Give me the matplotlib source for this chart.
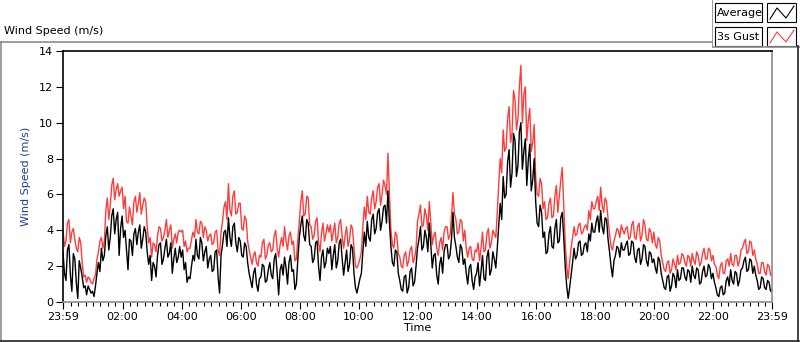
import numpy as np
import matplotlib
matplotlib.use("Agg")
import matplotlib.pyplot as plt
from matplotlib.patches import Rectangle
from matplotlib.lines import Line2D

# one sample every 3 minutes starting at 23:59, 20 per hour (+ last point at 23:59)
avg_speed = [
    2.8, 1.6, 1.2, 2.9, 3.2, 1.5, 0.6, 2.7, 2.4, 1.1, 0.2, 2.3, 1.9, 1.4, 0.8, 0.9, 0.4, 0.9, 0.7, 0.5,
    0.6, 0.3, 0.9, 1.6, 2.2, 1.7, 3.0, 2.3, 2.6, 3.7, 4.2, 2.9, 3.6, 4.8, 5.2, 3.8, 4.6, 5.0, 2.6, 4.1,
    4.8, 3.6, 4.0, 2.9, 1.8, 3.5, 3.4, 2.6, 3.8, 4.1, 3.2, 3.9, 4.3, 3.0, 3.5, 4.2, 3.9, 2.8, 2.1, 2.6,
    1.2, 2.2, 2.0, 1.4, 2.6, 3.2, 3.3, 2.1, 2.4, 3.0, 3.5, 2.5, 2.7, 3.3, 1.6, 2.4, 3.0, 2.2, 2.5, 3.1,
    2.5, 2.9, 1.8, 2.2, 1.1, 1.4, 1.3, 2.0, 2.6, 2.3, 3.5, 2.6, 2.4, 3.6, 3.3, 2.3, 2.8, 3.1, 1.9, 2.4,
    2.6, 1.7, 1.8, 2.8, 2.9, 1.4, 0.5, 2.6, 3.2, 3.9, 4.0, 3.1, 4.7, 3.6, 3.1, 4.2, 4.4, 3.3, 2.8, 3.6,
    3.4, 2.6, 2.5, 3.3, 3.1, 2.2, 1.6, 1.2, 0.8, 1.6, 1.9, 1.0, 0.6, 1.3, 1.4, 2.1, 2.0, 1.1, 1.2, 1.8,
    2.2, 1.5, 1.3, 2.4, 2.7, 1.6, 0.4, 1.8, 2.1, 1.5, 2.5, 1.9, 1.0, 2.2, 2.6, 1.7, 1.8, 0.7, 1.0, 2.4,
    3.6, 4.3, 4.8, 3.7, 3.4, 4.6, 4.4, 3.2, 3.1, 2.2, 2.4, 3.3, 3.4, 2.0, 1.2, 2.5, 2.9, 1.9, 2.2, 3.0,
    2.7, 3.1, 1.8, 2.6, 3.2, 1.9, 2.3, 3.3, 3.5, 2.4, 1.5, 2.2, 2.9, 1.7, 2.1, 3.2, 3.0, 1.6, 0.8, 0.5,
    0.9, 1.3, 1.6, 2.8, 3.9, 3.1, 4.5, 3.6, 3.4, 4.6, 4.9, 3.8, 4.1, 5.0, 5.2, 4.0, 4.5, 5.3, 5.4, 4.4,
    6.2, 4.4, 3.1, 2.2, 2.0, 2.9, 2.8, 1.6, 1.2, 0.7, 0.6, 1.4, 1.5, 0.5, 0.8, 1.7, 1.9, 0.9, 1.1, 2.0,
    3.0, 3.5, 4.2, 2.9, 3.1, 4.0, 3.6, 2.8, 4.4, 3.2, 1.9, 2.6, 2.7, 1.5, 1.0, 2.1, 2.5, 1.6, 2.8, 3.2,
    3.2, 2.4, 2.6, 3.5, 5.0, 3.6, 3.1, 2.5, 2.2, 3.2, 3.0, 2.1, 2.4, 1.6, 1.0, 1.9, 2.1, 1.2, 0.7, 1.4,
    1.6, 2.2, 0.9, 1.7, 2.6, 1.3, 1.2, 2.5, 2.9, 1.5, 1.8, 2.8, 2.4, 1.9, 3.0, 4.3, 5.5, 4.6, 7.0, 5.8,
    6.0, 7.8, 8.5, 6.4, 7.2, 9.4, 9.0, 7.0, 7.6, 9.5, 10.0, 7.4, 8.4, 9.1, 6.5, 7.9, 8.8, 6.2, 6.8, 8.0,
    5.6, 4.4, 4.2, 5.4, 5.0, 3.6, 3.9, 2.7, 2.8, 3.8, 4.2, 3.1, 3.0, 4.1, 4.6, 3.3, 3.4, 4.7, 5.0, 3.6,
    2.0, 0.9, 0.2, 0.8, 1.5, 2.2, 3.0, 2.4, 2.6, 3.3, 3.4, 2.6, 2.7, 3.2, 3.3, 2.8, 3.8, 3.4, 4.4, 3.9,
    3.9, 4.5, 4.8, 3.9, 5.1, 4.2, 3.8, 4.7, 4.6, 3.5, 2.8, 2.0, 1.4, 2.3, 2.6, 3.1, 3.0, 2.5, 3.3, 2.9,
    2.9, 3.2, 3.4, 2.6, 2.7, 3.4, 3.3, 2.5, 2.2, 2.9, 3.0, 2.1, 2.4, 3.2, 3.1, 2.3, 2.0, 2.8, 2.7, 2.2,
    2.4, 1.9, 1.6, 2.5, 2.3, 1.6, 1.2, 0.8, 0.7, 1.4, 1.5, 0.6, 0.9, 1.6, 1.4, 0.8, 1.8, 1.2, 1.3, 1.9,
    1.9, 1.4, 1.2, 1.8, 1.7, 1.1, 2.0, 1.5, 1.3, 1.9, 1.8, 1.0, 1.1, 1.7, 2.0, 1.4, 1.5, 2.1, 1.9, 1.3,
    1.6, 1.1, 0.8, 0.4, 0.3, 0.8, 0.9, 0.4, 0.5, 1.2, 1.4, 0.9, 1.8, 1.2, 1.0, 1.7, 1.6, 0.9, 1.2, 1.8,
    1.9, 2.3, 2.5, 1.7, 1.8, 2.4, 2.3, 1.6, 2.0, 1.5, 1.2, 0.7, 0.8, 1.4, 1.3, 0.8, 0.7, 1.2, 1.1, 0.6,
    0.7,
]
gust_speed = [
    4.0, 3.1, 3.4, 4.4, 4.6, 3.3, 3.9, 4.1, 3.5, 3.0, 2.8, 3.6, 3.3, 2.2, 1.4, 1.5, 1.1, 1.4, 1.3, 1.1,
    1.0, 1.3, 1.5, 2.4, 2.8, 3.4, 3.6, 3.0, 3.4, 5.1, 5.8, 4.6, 5.4, 6.5, 6.9, 5.7, 6.3, 6.6, 5.9, 6.2,
    6.4, 5.2, 5.9, 4.5, 4.4, 5.3, 4.8, 4.3, 5.6, 5.9, 5.0, 5.5, 6.1, 4.9, 5.4, 5.8, 5.6, 4.2, 3.3, 3.6,
    2.5, 3.3, 3.2, 2.8, 3.7, 4.2, 4.1, 3.4, 3.6, 4.0, 4.6, 3.6, 4.0, 4.3, 3.0, 3.5, 3.8, 3.3, 3.9, 4.0,
    3.9, 4.0, 3.1, 3.4, 2.8, 3.0, 3.0, 3.5, 3.9, 3.6, 4.6, 3.9, 3.8, 4.5, 4.4, 3.6, 4.2, 4.0, 3.4, 3.7,
    3.8, 3.2, 3.3, 3.9, 4.0, 2.9, 2.6, 3.9, 4.5, 5.3, 5.6, 4.6, 6.6, 5.1, 4.8, 5.9, 6.2, 4.9, 5.0, 5.5,
    5.5, 4.1, 4.0, 4.8, 4.6, 3.4, 2.9, 2.5, 2.1, 2.6, 2.8, 2.2, 2.0, 2.6, 2.5, 3.3, 3.5, 2.4, 2.6, 3.2,
    3.3, 2.8, 2.9, 3.7, 4.0, 3.0, 2.5, 3.2, 3.6, 3.1, 4.2, 3.4, 2.9, 3.7, 3.9, 3.2, 3.4, 2.3, 2.4, 3.5,
    4.5, 5.6, 6.2, 4.8, 4.9, 5.9, 5.8, 4.3, 4.2, 3.5, 3.7, 4.5, 4.7, 3.3, 2.8, 3.8, 4.4, 3.4, 3.8, 4.3,
    3.9, 4.3, 3.4, 3.9, 4.4, 3.3, 3.6, 4.4, 4.6, 3.6, 3.0, 3.7, 4.2, 3.1, 3.5, 4.3, 4.1, 3.0, 2.0, 1.9,
    2.1, 2.4, 2.8, 4.2, 5.3, 4.6, 5.9, 5.0, 4.9, 5.8, 6.2, 5.2, 5.6, 6.4, 6.6, 5.4, 6.0, 6.8, 6.5, 6.0,
    8.3, 6.0, 4.0, 3.2, 3.0, 3.9, 3.7, 2.7, 2.5, 2.0, 1.9, 2.6, 2.8, 2.0, 2.3, 2.9, 3.1, 2.2, 2.4, 3.0,
    4.5, 4.9, 5.4, 4.2, 4.3, 5.2, 4.8, 4.0, 5.6, 4.4, 3.2, 3.7, 3.9, 3.0, 2.6, 3.3, 3.6, 2.9, 3.9, 4.2,
    4.2, 3.5, 3.7, 4.8, 6.1, 4.9, 4.6, 3.8, 3.9, 4.6, 4.5, 3.4, 4.0, 3.0, 2.5, 3.0, 3.1, 2.4, 2.3, 2.9,
    2.8, 3.3, 2.3, 3.0, 3.9, 2.8, 2.9, 3.8, 4.1, 3.0, 3.3, 4.0, 3.8, 3.6, 5.0, 6.6, 8.0, 7.2, 9.6, 8.4,
    8.6, 10.2, 10.9, 8.9, 9.4, 11.8, 11.3, 9.6, 10.2, 12.1, 13.2, 10.0, 11.6, 12.0, 9.0, 10.1, 10.8, 8.4, 8.9, 9.9,
    7.0, 6.0, 5.9, 6.9, 6.6, 5.2, 5.6, 4.6, 4.7, 5.5, 5.8, 4.7, 4.8, 5.9, 6.5, 5.0, 5.9, 6.8, 7.5, 5.4,
    3.3, 2.0, 1.3, 2.2, 3.0, 3.6, 4.2, 3.7, 3.8, 4.3, 4.4, 3.8, 3.9, 4.2, 4.3, 4.0, 5.1, 4.6, 5.6, 5.2,
    5.2, 5.6, 5.9, 5.1, 6.4, 5.4, 5.0, 5.8, 5.6, 4.6, 3.8, 3.1, 2.9, 3.4, 3.7, 4.1, 4.0, 3.6, 4.3, 4.0,
    3.8, 4.1, 4.2, 3.5, 3.6, 4.3, 4.5, 3.6, 3.5, 4.2, 4.4, 3.4, 3.7, 4.6, 4.3, 3.5, 3.4, 4.1, 3.9, 3.3,
    3.9, 3.2, 3.0, 3.6, 3.4, 2.6, 2.2, 1.8, 1.7, 2.2, 2.3, 1.6, 1.8, 2.4, 2.1, 1.8, 2.6, 2.1, 2.2, 2.7,
    2.6, 2.2, 2.0, 2.6, 2.5, 2.0, 2.7, 2.3, 2.1, 2.8, 2.6, 2.0, 2.2, 2.7, 3.0, 2.4, 2.4, 3.0, 2.9, 2.3,
    2.6, 2.1, 2.0, 1.5, 1.3, 2.0, 2.2, 1.6, 1.6, 2.3, 2.4, 2.0, 2.7, 2.1, 2.0, 2.6, 2.6, 2.0, 2.3, 2.9,
    3.0, 3.3, 3.5, 2.7, 2.8, 3.4, 3.3, 2.6, 2.9, 2.4, 2.1, 1.6, 1.6, 2.2, 2.2, 1.7, 1.5, 2.1, 2.0, 1.5,
    1.5,
]
tick_labels = ["23:59", "02:00", "04:00", "06:00", "08:00", "10:00", "12:00",
               "14:00", "16:00", "18:00", "20:00", "22:00", "23:59"]
series_names = ["Average", "3s Gust"]

t_avg = np.arange(len(avg_speed)) / 20.0    # hours since 23:59
t_gust = np.arange(len(gust_speed)) / 20.0
off = 1 / 60.0                              # 23:59 -> 00:00
major = [0.0] + [off + 2 * k for k in range(1, 12)] + [24.0]
minor = [off + 0.25 * k for k in range(96)]

plt.rcParams["font.family"] = "DejaVu Sans"
fig = plt.figure(figsize=(8, 3.42), dpi=100)

# panel frame and title
fig.add_artist(Line2D([0.0, 0.89], [1 - 42 / 342] * 2, color="#8c8c8c", lw=1.2, transform=fig.transFigure))
fig.add_artist(Line2D([0.001, 0.001], [0.002, 1 - 42 / 342], color="#8c8c8c", lw=1.2, transform=fig.transFigure))
fig.add_artist(Line2D([0.0, 0.999], [0.004, 0.004], color="#222222", lw=1.2, transform=fig.transFigure))
fig.add_artist(Line2D([0.997, 0.997], [0.004, 1 - 46 / 342], color="#222222", lw=1.2, transform=fig.transFigure))
fig.text(4 / 800, 1 - 31 / 342, "Wind Speed (m/s)", fontsize=8, va="center", ha="left", color="black")

ax = fig.add_axes([63 / 800, 40 / 342, 709 / 800, 251 / 342])
ax.plot(t_gust, gust_speed, color="#ff3c3c", lw=1.0)
ax.plot(t_avg, avg_speed, color="black", lw=1.0)
ax.set_xlim(0, 24)
ax.set_ylim(0, 14)
ax.set_yticks(range(0, 15, 2))
ax.set_xticks(major)
ax.set_xticklabels(tick_labels)
ax.set_xticks(minor, minor=True)
ax.tick_params(axis="both", labelsize=8, colors="black", length=5, width=0.8, pad=2)
ax.tick_params(axis="x", which="minor", length=3, width=0.8)
ax.set_ylabel("Wind Speed (m/s)", fontsize=8, color="#1f3f8f", labelpad=6)
ax.set_xlabel("Time", fontsize=8, labelpad=1)
ax.spines["left"].set_color("black")
ax.spines["top"].set_color("black")
ax.spines["bottom"].set_color("#8c8c8c")
ax.spines["right"].set_color("#8c8c8c")
for s in ax.spines.values():
    s.set_linewidth(1.2)

# LabVIEW-style plot legend (top right)
lg = fig.add_axes([712 / 800, 1 - 48 / 342, 88 / 800, 48 / 342])
lg.set_xlim(712, 800)
lg.set_ylim(48, 0)
lg.axis("off")
lg.plot([712, 712, 800], [0, 47, 47], color="#8c8c8c", lw=1.2)
colors = ["black", "#ff3c3c"]
for i, (name, c) in enumerate(zip(series_names, colors)):
    y0 = 3 + i * 24
    lg.add_patch(Rectangle((715, y0), 47, 19, fill=False, ec="black", lw=0.8))
    lg.text(717, y0 + 9.5, name, fontsize=8, va="center", ha="left")
    lg.add_patch(Rectangle((767, y0), 29, 19, fill=False, ec="black", lw=0.8))
    lg.plot([770, 777, 786, 794], [y0 + 16, y0 + 5, y0 + 15, y0 + 3], color=c, lw=0.8)

fig.savefig("out.png", dpi=100)
